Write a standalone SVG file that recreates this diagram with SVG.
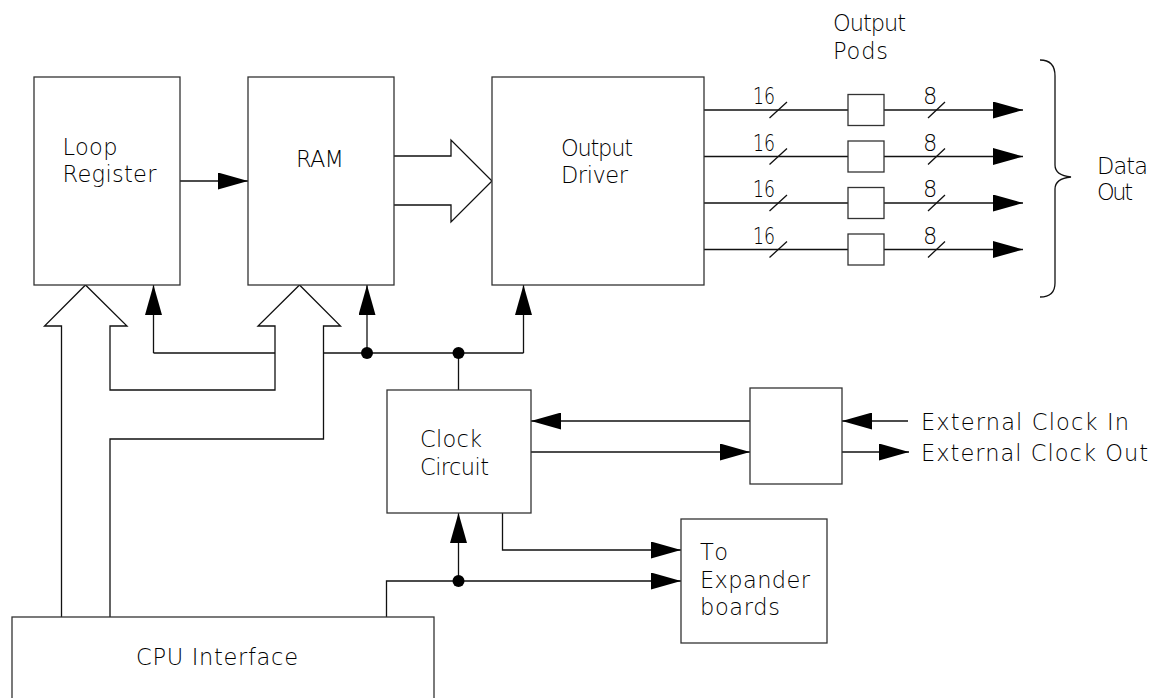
<svg xmlns="http://www.w3.org/2000/svg" width="1165" height="698" viewBox="0 0 1165 698">
<style>
.box{fill:#fff;stroke:#333;stroke-width:1.3}
.ln{fill:none;stroke:#111;stroke-width:1.3}
.arr{marker-end:url(#ah)}
text{font-family:"DejaVu Sans","Liberation Sans",sans-serif;font-weight:200;font-size:22.5px;fill:#000}
.dot{fill:#000}
</style>
<defs>
<marker id="ah" markerUnits="userSpaceOnUse" viewBox="0 0 30 17" refX="30" refY="8.5" markerWidth="30" markerHeight="17" orient="auto">
<path d="M0,0 L30,8.5 L0,17 Z" fill="#000"/>
</marker>
</defs>
<rect width="1165" height="698" fill="#fff"/>

<g id="connectors">
<path class="ln arr" d="M180,181 H248"/>
<path class="ln" d="M394,156 H451 V140 L492,181 L451,222 V205 H394"/>
<path class="ln" d="M61.5,617 V326 H44.5 L85.5,285 L127,326 H110 V390 H275 V326 H258 L299.5,285 L340.5,326 H323.5 V439 H110 V617"/>
<path class="ln" d="M275,353 H153.5"/>
<path class="ln arr" d="M153.5,353 V285"/>
<path class="ln" d="M323.5,353 H523.5"/>
<path class="ln arr" d="M523.5,353 V285"/>
<path class="ln arr" d="M367,353 V285"/>
<path class="ln" d="M458.5,353 V390"/>
<circle class="dot" cx="367" cy="353" r="6"/>
<circle class="dot" cx="458.5" cy="353" r="6"/>
<path class="ln arr" d="M750,421 H531"/>
<path class="ln arr" d="M531,452 H750"/>
<path class="ln arr" d="M908,421 H842"/>
<path class="ln arr" d="M842,452 H909"/>
<path class="ln arr" d="M502.5,513 V550 H681"/>
<path class="ln arr" d="M386.5,617 V581 H681"/>
<path class="ln arr" d="M458.5,581 V513"/>
<circle class="dot" cx="458.5" cy="581" r="6"/>
<path class="ln" d="M704,110 H848 M704,156.5 H848 M704,203 H848 M704,249.5 H848"/>
<path class="ln arr" d="M884,110 H1023"/>
<path class="ln arr" d="M884,156.5 H1023"/>
<path class="ln arr" d="M884,203 H1023"/>
<path class="ln arr" d="M884,249.5 H1023"/>
<path class="ln" d="M769.5,118 L787,102 M928,118 L945,102 M769.5,164.5 L787,148.5 M928,164.5 L945,148.5 M769.5,211 L787,195 M928,211 L945,195 M769.5,257.5 L787,241.5 M928,257.5 L945,241.5"/>
<path class="ln" d="M1040,60 C1050,60 1055,65 1055,76 V165 C1055,172 1061,176 1071,177 C1061,178 1055,182 1055,189 V283 C1055,292 1050,297 1040,297"/>
</g>

<g id="labels">
<text x="753" y="104" textLength="22" lengthAdjust="spacingAndGlyphs">16</text><text x="923" y="104">8</text>
<text x="753" y="150.5" textLength="22" lengthAdjust="spacingAndGlyphs">16</text><text x="923" y="150.5">8</text>
<text x="753" y="197" textLength="22" lengthAdjust="spacingAndGlyphs">16</text><text x="923" y="197">8</text>
<text x="753" y="243.5" textLength="22" lengthAdjust="spacingAndGlyphs">16</text><text x="923" y="243.5">8</text>
<text x="833" y="31" textLength="73" lengthAdjust="spacing">Output</text>
<text x="833" y="58.5" textLength="55" lengthAdjust="spacing">Pods</text>
<text x="1097" y="173.5" textLength="51" lengthAdjust="spacing">Data</text>
<text x="1097" y="200" textLength="36" lengthAdjust="spacing">Out</text>
<text x="921" y="430" textLength="208" lengthAdjust="spacing">External Clock In</text>
<text x="921" y="460.5" textLength="227" lengthAdjust="spacing">External Clock Out</text>
</g>

<g id="loop-register">
<rect class="box" x="34" y="77" width="146" height="208"/>
<text x="62.5" y="155" textLength="55" lengthAdjust="spacing">Loop</text>
<text x="62.5" y="182" textLength="94" lengthAdjust="spacing">Register</text>
</g>
<g id="ram">
<rect class="box" x="248" y="77" width="146" height="208"/>
<text x="296" y="167" textLength="48" lengthAdjust="spacing">RAM</text>
</g>
<g id="output-driver">
<rect class="box" x="492" y="77" width="212" height="208"/>
<text x="561" y="155.5" textLength="72" lengthAdjust="spacing">Output</text>
<text x="561" y="183" textLength="67" lengthAdjust="spacing">Driver</text>
</g>
<g id="output-pods">
<rect class="box" x="848" y="94.5" width="36" height="31"/>
<rect class="box" x="848" y="141" width="36" height="31"/>
<rect class="box" x="848" y="187.5" width="36" height="31"/>
<rect class="box" x="848" y="234" width="36" height="31"/>
</g>
<g id="clock-circuit">
<rect class="box" x="387" y="390" width="144" height="123"/>
<text x="420" y="447" textLength="62" lengthAdjust="spacing">Clock</text>
<text x="420" y="475" textLength="69" lengthAdjust="spacing">Circuit</text>
</g>
<g id="clock-buffer">
<rect class="box" x="750" y="388" width="92" height="96"/>
</g>
<g id="expander">
<rect class="box" x="681" y="519" width="146" height="124"/>
<text x="700" y="560" textLength="28" lengthAdjust="spacing">To</text>
<text x="700" y="587.5" textLength="110" lengthAdjust="spacing">Expander</text>
<text x="700" y="615" textLength="80" lengthAdjust="spacing">boards</text>
</g>
<g id="cpu-interface">
<rect class="box" x="12" y="617" width="422" height="120"/>
<text x="136" y="665" textLength="162" lengthAdjust="spacing">CPU Interface</text>
</g>
</svg>
